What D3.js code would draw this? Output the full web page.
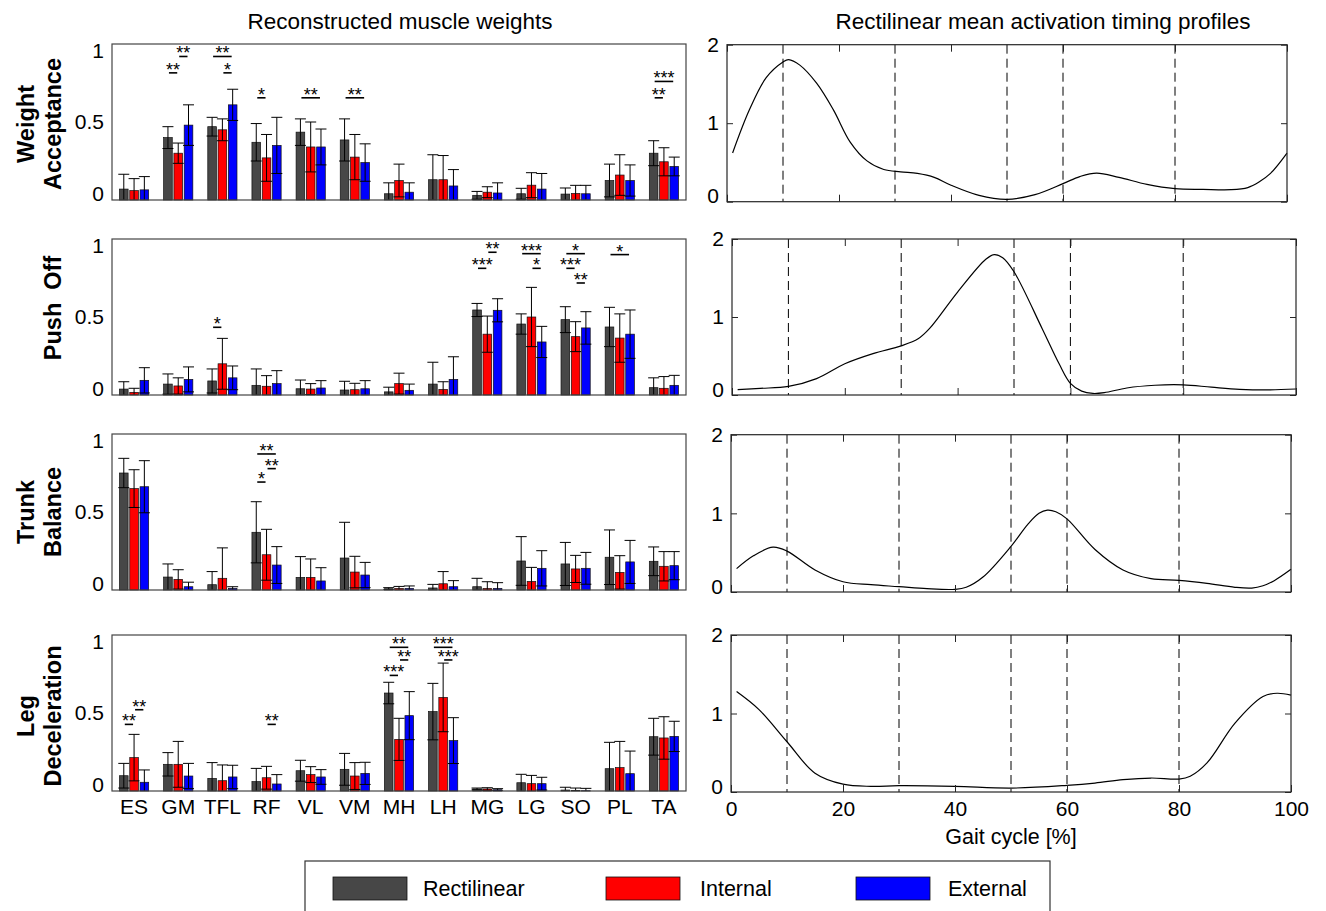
<!DOCTYPE html>
<html>
<head>
<meta charset="utf-8">
<script src="https://cdn.jsdelivr.net/npm/d3@7"></script>
<style>
  body { margin: 0; background: #fff; }
  svg { display: block; font-family: "Liberation Sans", Arial, sans-serif; }
</style>
</head>
<body>
<svg id="chart" width="1326" height="911"></svg>
<script>
// muscles, conditions
var muscles = ["ES", "GM", "TFL", "RF", "VL", "VM", "MH", "LH", "MG", "LG", "SO", "PL", "TA"];
var conditions = ["Rectilinear", "Internal", "External"];
var colors = ["#474747", "#ff0000", "#0000ff"];
var synergies = ["Weight\nAcceptance", "Push  Off", "Trunk\nBalance", "Leg\nDeceleration"];

// mean weights [rectilinear, internal, external]
var waMean = [
	[0.07, 0.40, 0.47, 0.37, 0.435, 0.385, 0.04, 0.13, 0.03, 0.04, 0.038, 0.125, 0.30],
	[0.06, 0.30, 0.45, 0.27, 0.34, 0.275, 0.125, 0.13, 0.05, 0.095, 0.042, 0.16, 0.245],
	[0.065, 0.48, 0.61, 0.35, 0.34, 0.24, 0.05, 0.09, 0.045, 0.07, 0.04, 0.125, 0.215]
];
var waSd = [
	[0.095, 0.07, 0.06, 0.12, 0.085, 0.135, 0.07, 0.16, 0.025, 0.035, 0.039, 0.105, 0.08],
	[0.077, 0.065, 0.07, 0.15, 0.16, 0.145, 0.105, 0.155, 0.035, 0.08, 0.052, 0.13, 0.09],
	[0.085, 0.13, 0.10, 0.18, 0.115, 0.12, 0.06, 0.105, 0.065, 0.10, 0.054, 0.10, 0.06]
];
var poMean = [
	[0.038, 0.07, 0.09, 0.062, 0.04, 0.032, 0.02, 0.07, 0.545, 0.455, 0.483, 0.436, 0.047],
	[0.017, 0.058, 0.20, 0.056, 0.038, 0.034, 0.073, 0.036, 0.39, 0.50, 0.374, 0.365, 0.043],
	[0.094, 0.10, 0.11, 0.073, 0.045, 0.04, 0.03, 0.10, 0.543, 0.34, 0.43, 0.39, 0.062]
];
var poSd = [
	[0.047, 0.065, 0.077, 0.105, 0.056, 0.056, 0.03, 0.14, 0.042, 0.065, 0.083, 0.126, 0.063],
	[0.026, 0.052, 0.163, 0.068, 0.035, 0.041, 0.067, 0.049, 0.116, 0.19, 0.096, 0.155, 0.075],
	[0.081, 0.08, 0.076, 0.083, 0.047, 0.052, 0.04, 0.145, 0.074, 0.10, 0.104, 0.155, 0.064]
];
var tbMean = [
	[0.75, 0.083, 0.034, 0.37, 0.081, 0.205, 0.008, 0.013, 0.021, 0.186, 0.167, 0.21, 0.184],
	[0.65, 0.068, 0.075, 0.226, 0.081, 0.115, 0.01, 0.04, 0.01, 0.055, 0.135, 0.113, 0.152],
	[0.662, 0.021, 0.01, 0.16, 0.058, 0.096, 0.01, 0.021, 0.01, 0.139, 0.139, 0.18, 0.156]
];
var tbSd = [
	[0.094, 0.084, 0.084, 0.196, 0.133, 0.229, 0.007, 0.023, 0.054, 0.156, 0.138, 0.175, 0.092],
	[0.121, 0.062, 0.195, 0.163, 0.118, 0.101, 0.013, 0.078, 0.043, 0.09, 0.087, 0.107, 0.094],
	[0.167, 0.029, 0.011, 0.118, 0.085, 0.081, 0.016, 0.039, 0.037, 0.113, 0.102, 0.138, 0.09]
];
var ldMean = [
	[0.098, 0.171, 0.081, 0.06, 0.13, 0.139, 0.628, 0.509, 0.013, 0.053, 0.006, 0.143, 0.348],
	[0.214, 0.171, 0.066, 0.085, 0.105, 0.096, 0.331, 0.60, 0.013, 0.047, 0.004, 0.15, 0.34],
	[0.056, 0.096, 0.09, 0.045, 0.09, 0.113, 0.483, 0.323, 0.008, 0.047, 0.002, 0.111, 0.35]
];
var ldSd = [
	[0.079, 0.075, 0.101, 0.085, 0.067, 0.102, 0.069, 0.181, 0.006, 0.054, 0.018, 0.169, 0.118],
	[0.149, 0.147, 0.101, 0.073, 0.051, 0.086, 0.135, 0.22, 0.008, 0.053, 0.015, 0.168, 0.136],
	[0.079, 0.081, 0.075, 0.06, 0.047, 0.071, 0.154, 0.147, 0.007, 0.041, 0.015, 0.145, 0.097]
];

// significance marks: muscle, bar a, bar b, height, stars
var waSig = [
	["GM", 0, 1, 0.815, "**"], ["GM", 1, 2, 0.92, "**"], ["TFL", 0, 2, 0.92, "**"], ["TFL", 1, 2, 0.815, "*"],
	["RF", 0, 1, 0.655, "*"], ["VL", 0, 2, 0.655, "**"], ["VM", 0, 2, 0.655, "**"],
	["TA", 0, 2, 0.76, "***"], ["TA", 0, 1, 0.655, "**"]
];
var poSig = [
	["TFL", 0, 1, 0.434, "*"], ["MG", 0, 1, 0.812, "***"], ["MG", 1, 2, 0.915, "**"],
	["LG", 0, 2, 0.906, "***"], ["LG", 1, 2, 0.812, "*"],
	["SO", 0, 2, 0.906, "*"], ["SO", 0, 1, 0.812, "***"], ["SO", 1, 2, 0.718, "**"],
	["PL", 0, 2, 0.90, "*"]
];
var tbSig = [
	["RF", 0, 2, 0.872, "**"], ["RF", 1, 2, 0.778, "**"], ["RF", 0, 1, 0.692, "*"]
];
var ldSig = [
	["ES", 0, 1, 0.427, "**"], ["ES", 1, 2, 0.521, "**"], ["RF", 1, 2, 0.427, "**"],
	["MH", 0, 2, 0.921, "**"], ["MH", 1, 2, 0.84, "**"], ["MH", 0, 1, 0.741, "***"],
	["LH", 0, 2, 0.921, "***"], ["LH", 1, 2, 0.84, "***"]
];

// rectilinear mean activation profiles [gait %, value]
var waProfile = [[1,0.62],[4,1.17],[7,1.58],[10,1.78],[11,1.81],[13,1.74],[16,1.51],[19,1.17],[22,0.76],[25,0.52],[28,0.41],[31,0.38],[34,0.36],[37,0.31],[40,0.21],[45,0.08],[50,0.03],[55,0.09],[60,0.23],[63,0.32],[66,0.365],[70,0.31],[75,0.22],[80,0.166],[85,0.157],[90,0.153],[93,0.18],[95,0.25],[97,0.357],[100,0.62]];
var poProfile = [[1,0.068],[5,0.085],[10,0.11],[15,0.21],[20,0.40],[25,0.53],[30,0.63],[33,0.72],[35,0.85],[40,1.32],[45,1.74],[46.5,1.80],[48,1.76],[50,1.58],[55,0.85],[58,0.40],[60,0.15],[62,0.05],[64,0.02],[66,0.03],[70,0.09],[75,0.125],[80,0.13],[85,0.10],[90,0.073],[95,0.065],[100,0.077]];
var tbProfile = [[1,0.297],[4,0.46],[7.5,0.57],[10,0.52],[15,0.28],[20,0.13],[25,0.093],[30,0.068],[35,0.042],[40,0.034],[42,0.06],[45,0.19],[50,0.58],[53,0.86],[55,1.0],[56.5,1.04],[58,1.02],[60,0.93],[65,0.54],[70,0.28],[75,0.17],[80,0.148],[85,0.11],[90,0.06],[93,0.05],[95,0.08],[97,0.144],[100,0.288]];
var ldProfile = [[1,1.28],[5,1.05],[10,0.64],[15,0.24],[20,0.10],[25,0.072],[30,0.08],[40,0.072],[50,0.05],[60,0.085],[65,0.114],[70,0.157],[75,0.178],[80,0.165],[82,0.2],[85,0.37],[90,0.877],[95,1.216],[97.5,1.258],[100,1.233]];

var phaseLines = [10, 30, 50, 60, 80];
var gaitTicks = [0, 20, 40, 60, 80, 100];
var weightTicks = [0, 0.5, 1];
var profileTicks = [0, 1, 2];

var means = [waMean, poMean, tbMean, ldMean];
var sds = [waSd, poSd, tbSd, ldSd];
var sigs = [waSig, poSig, tbSig, ldSig];
var profiles = [waProfile, poProfile, tbProfile, ldProfile];

var svg = d3.select("#chart");
var axisColor = "#262626";

// panel frames
var leftBox = [[44, 200], [239, 395], [434, 590], [635, 791]];
var rightBox = [[727, 1287, 44.7, 201.7], [732, 1296, 239, 395], [731, 1291, 434.7, 592], [731, 1291, 635, 792]];
var labelCenter = [124, 308, 512, 716];

svg.append("text").attr("x", 400).attr("y", 29).attr("text-anchor", "middle")
	.attr("font-size", 22.5).text("Reconstructed muscle weights");
svg.append("text").attr("x", 1043).attr("y", 29).attr("text-anchor", "middle")
	.attr("font-size", 22.5).text("Rectilinear mean activation timing profiles");

var x = d3.scaleBand().domain(muscles).range([112, 686]);
var xSub = d3.scaleBand().domain([0, 1, 2]).range([-14.6, 14.6]).paddingInner(0.16);

synergies.forEach(function(name, p) {
	var top = leftBox[p][0], bottom = leftBox[p][1];
	var y = d3.scaleLinear().domain([0, 1]).range([bottom, top]);
	var g = svg.append("g");

	g.append("clipPath").attr("id", "clip" + p).append("rect")
		.attr("x", 112).attr("y", top).attr("width", 574).attr("height", bottom - top);

	var rows = [];
	conditions.forEach(function(c, k) {
		muscles.forEach(function(m, i) {
			rows.push({m: m, k: k, v: means[p][k][i], sd: sds[p][k][i]});
		});
	});
	var cx = d => x(d.m) + x.bandwidth() / 2 + xSub(d.k) + xSub.bandwidth() / 2;

	g.selectAll("rect.bar").data(rows).join("rect").attr("class", "bar")
		.attr("x", d => cx(d) - xSub.bandwidth() / 2)
		.attr("width", xSub.bandwidth())
		.attr("y", d => y(d.v))
		.attr("height", d => y(0) - y(d.v))
		.attr("fill", d => colors[d.k])
		.attr("stroke", "#111").attr("stroke-width", 0.7);

	var eb = g.append("g").attr("clip-path", "url(#clip" + p + ")")
		.attr("stroke", "#000").attr("stroke-width", 1);
	eb.selectAll("line.v").data(rows).join("line")
		.attr("x1", cx).attr("x2", cx)
		.attr("y1", d => y(d.v + d.sd)).attr("y2", d => y(d.v - d.sd));
	eb.selectAll("line.cu").data(rows).join("line")
		.attr("x1", d => cx(d) - 5.5).attr("x2", d => cx(d) + 5.5)
		.attr("y1", d => y(d.v + d.sd)).attr("y2", d => y(d.v + d.sd));
	eb.selectAll("line.cl").data(rows.filter(d => d.v - d.sd > 0)).join("line")
		.attr("x1", d => cx(d) - 5.5).attr("x2", d => cx(d) + 5.5)
		.attr("y1", d => y(d.v - d.sd)).attr("y2", d => y(d.v - d.sd));

	// significance
	sigs[p].forEach(function(s) {
		var base = x(s[0]) + x.bandwidth() / 2 + xSub.bandwidth() / 2;
		var xa = base + xSub(s[1]) + 1, xb = base + xSub(s[2]) - 1;
		g.append("line").attr("x1", xa).attr("x2", xb)
			.attr("y1", y(s[3])).attr("y2", y(s[3]))
			.attr("stroke", "#000").attr("stroke-width", 1.6);
		g.append("text").attr("x", (xa + xb) / 2).attr("y", y(s[3]) + 3)
			.attr("text-anchor", "middle").attr("font-size", 18).text(s[4]);
	});

	g.append("rect").attr("x", 112).attr("y", top).attr("width", 574).attr("height", bottom - top)
		.attr("fill", "none").attr("stroke", "#444").attr("stroke-width", 1.2);

	weightTicks.forEach(function(v) {
		g.append("text").attr("x", 104).attr("y", y(v) + (v - 0.5) * 13)
			.attr("dy", "0.35em").attr("text-anchor", "end").attr("font-size", 21)
			.text(v);
	});

	if (p === 3) {
		muscles.forEach(function(m) {
			g.append("text").attr("x", x(m) + x.bandwidth() / 2).attr("y", 814)
				.attr("text-anchor", "middle").attr("font-size", 21).text(m);
		});
	}

	// row label
	var lines = name.split("\n");
	var lab = g.append("text").attr("font-weight", "bold").attr("font-size", 23.5)
		.attr("text-anchor", "middle").attr("xml:space", "preserve")
		.attr("transform", "translate(0," + labelCenter[p] + ") rotate(-90)");
	lines.forEach(function(t, j) {
		lab.append("tspan").attr("x", 0).attr("y", lines.length === 2 ? (j === 0 ? 34 : 61) : 61).text(t);
	});

	// activation profile
	var rb = rightBox[p];
	var xr = d3.scaleLinear().domain([0, 100]).range([rb[0], rb[1]]);
	var yr = d3.scaleLinear().domain([0, 2]).range([rb[3], rb[2]]);
	var gr = svg.append("g");

	gr.selectAll("line.phase").data(phaseLines).join("line")
		.attr("x1", d => xr(d)).attr("x2", d => xr(d))
		.attr("y1", rb[2]).attr("y2", rb[3])
		.attr("stroke", "#000").attr("stroke-width", 1).attr("stroke-dasharray", "9,5");

	var line = d3.line().x(d => xr(d[0])).y(d => yr(d[1])).curve(d3.curveCatmullRom.alpha(0.5));
	gr.append("path").attr("d", line(profiles[p]))
		.attr("fill", "none").attr("stroke", "#000").attr("stroke-width", 1.2);

	var ax = gr.append("g").attr("transform", "translate(0," + rb[3] + ")")
		.call(d3.axisBottom(xr).tickValues(gaitTicks).tickSize(-7).tickPadding(9)
			.tickFormat(p === 3 ? d3.format("d") : ""));
	var axT = gr.append("g").attr("transform", "translate(0," + rb[2] + ")")
		.call(d3.axisTop(xr).tickValues(gaitTicks).tickSize(-7).tickFormat(""));
	var ayL = gr.append("g").attr("transform", "translate(" + rb[0] + ",0)")
		.call(d3.axisLeft(yr).tickValues(profileTicks).tickSize(-6).tickPadding(8).tickFormat(d3.format("d")));
	var ayR = gr.append("g").attr("transform", "translate(" + rb[1] + ",0)")
		.call(d3.axisRight(yr).tickValues(profileTicks).tickSize(-6).tickFormat(""));
	[ax, axT, ayL, ayR].forEach(function(a) {
		a.select(".domain").remove();
		a.selectAll("line").attr("stroke", axisColor);
		a.selectAll("text").attr("font-size", 21).attr("font-family", "Liberation Sans, Arial, sans-serif").attr("fill", "#000");
	});
	ayL.selectAll("text").filter(d => d === 0).attr("dy", "0.05em");

	gr.append("rect").attr("x", rb[0]).attr("y", rb[2]).attr("width", rb[1] - rb[0]).attr("height", rb[3] - rb[2])
		.attr("fill", "none").attr("stroke", axisColor).attr("stroke-width", 1.2);

	if (p === 3) {
		gr.append("text").attr("x", (rb[0] + rb[1]) / 2).attr("y", 844)
			.attr("text-anchor", "middle").attr("font-size", 21.5).text("Gait cycle [%]");
	}
});

// legend
var leg = svg.append("g");
leg.append("rect").attr("x", 305).attr("y", 861).attr("width", 745).attr("height", 70)
	.attr("fill", "#fff").attr("stroke", "#333").attr("stroke-width", 1.2);
conditions.forEach(function(c, k) {
	var lx = [333, 606, 856][k];
	leg.append("rect").attr("x", lx).attr("y", 877).attr("width", 74).attr("height", 23)
		.attr("fill", colors[k]).attr("stroke", "#111").attr("stroke-width", 0.8);
	leg.append("text").attr("x", lx + [90, 94, 92][k]).attr("y", 888.5).attr("dy", "0.35em")
		.attr("font-size", 21.5).text(c);
});
</script>
</body>
</html>
